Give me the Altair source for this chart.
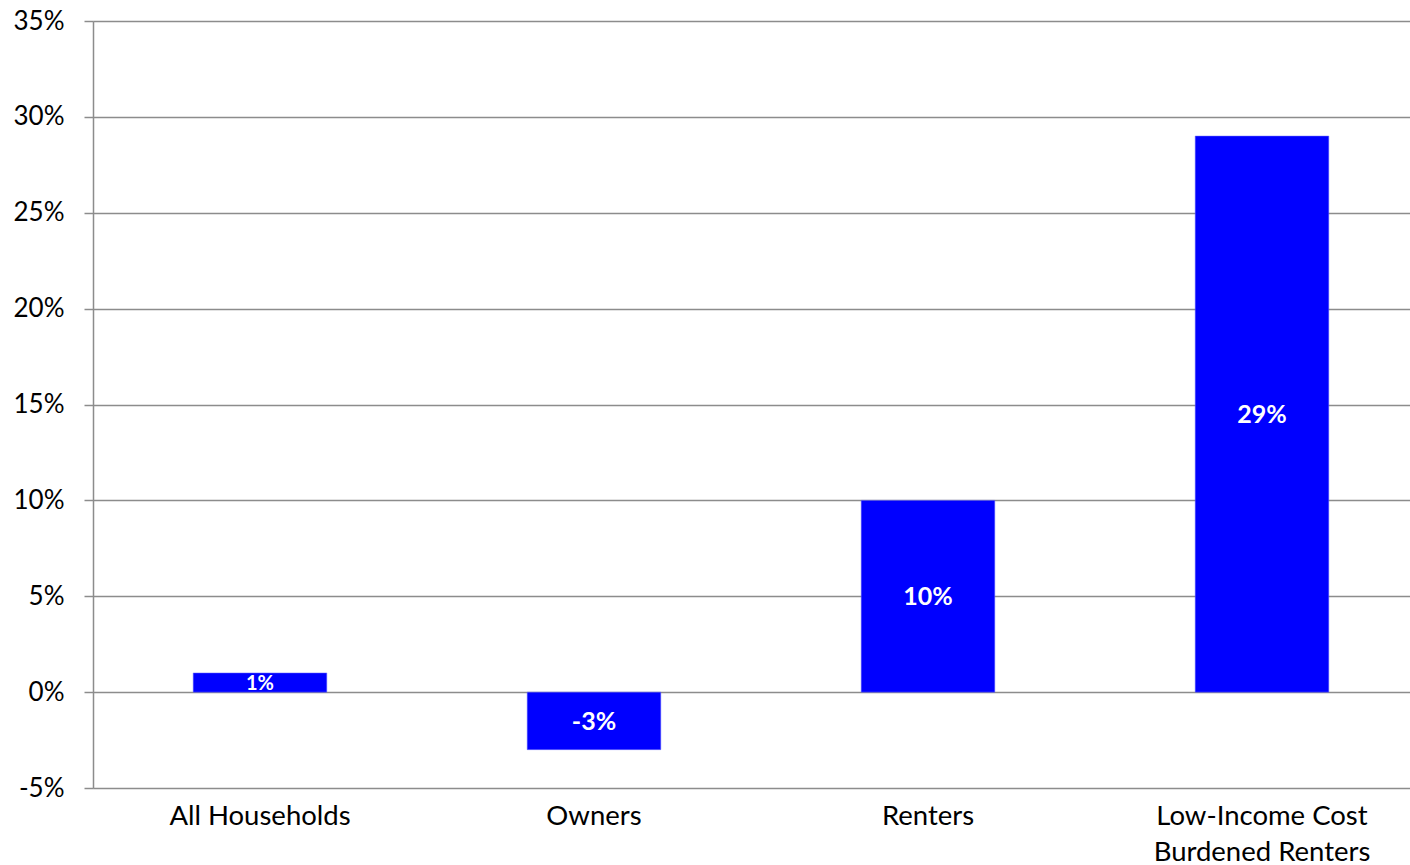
import altair as alt
import pandas as pd

categories = ["All Households", "Owners", "Renters", "Low-Income Cost Burdened Renters"]
values = [1, -3, 10, 29]
y_ticks = [-5, 0, 5, 10, 15, 20, 25, 30, 35]

df = pd.DataFrame({"category": categories, "value": values})

FONT = "Lato"
GRID = "#8c8c8c"

x = alt.X("category:N", sort=categories, title=None,
          scale=alt.Scale(paddingInner=0.6, paddingOuter=0.3, range=[0, 1336]),
          axis=alt.Axis(labelAngle=0, labelFontSize=27.5, labelFont=FONT, labelColor="#000000",
                        ticks=False, domain=False, labelPadding=14, labelLimit=400,
                        labelLineHeight=36,
                        labelExpr="datum.label == 'Low-Income Cost Burdened Renters' ? ['Low-Income Cost', 'Burdened Renters'] : datum.label"))

bars = alt.Chart(df).mark_bar(color="#0000ff", stroke="#6b6bff", strokeWidth=0.5).encode(
    x=x,
    y=alt.Y("value:Q", title=None,
            scale=alt.Scale(domain=[-5, 35], nice=False, zero=False),
            axis=alt.Axis(values=y_ticks, labelExpr="datum.value + '%'", labelFontSize=26,
                          labelFont=FONT, labelColor="#000000", labelPadding=20,
                          grid=True, gridColor=GRID, gridWidth=1.5,
                          domainColor=GRID, domainWidth=1.5, tickColor=GRID, tickSize=9, tickWidth=1.5)),
)

labels = alt.Chart(df).transform_calculate(
    mid="datum.value / 2",
    txt="datum.value + '%'",
).mark_text(color="white", fontWeight="bold", font=FONT, baseline="middle", align="center", dy=1).encode(
    x=alt.X("category:N", sort=categories),
    y=alt.Y("mid:Q"),
    text="txt:N",
    size=alt.condition("abs(datum.value) < 2", alt.value(20), alt.value(25)),
)

chart = alt.layer(bars, labels).properties(
    width=1317, height=767,
    autosize=alt.AutoSizeParams(type="none"),
    padding={"left": 93, "top": 21, "right": 0, "bottom": 77},
).configure_view(stroke=None).configure(background="white")

chart.save("out.html", embed_options={"renderer": "svg", "actions": False})
